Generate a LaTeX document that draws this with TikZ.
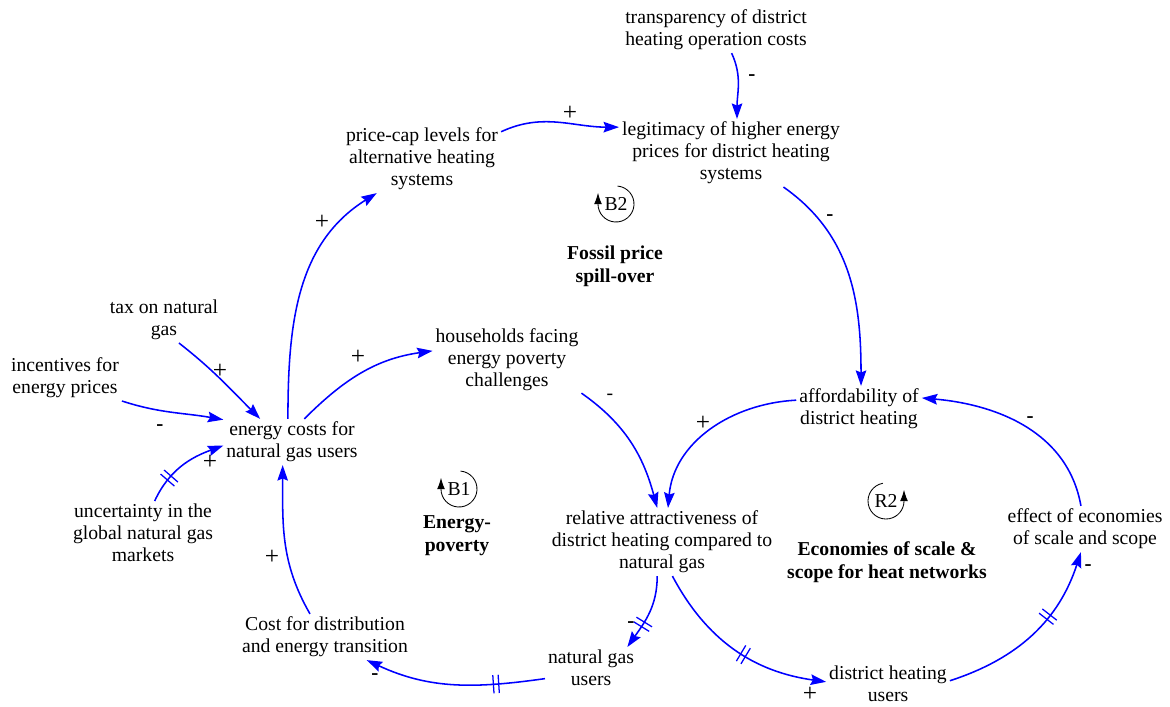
\documentclass[tikz,border=0pt]{standalone}
\usepackage{fontspec}
\setmainfont{Liberation Serif}
\usetikzlibrary{arrows.meta,decorations.markings}

\tikzset{
	var/.style={align=center, inner sep=2pt, font=\fontsize{14}{15.6}\selectfont},
	loopname/.style={align=center, inner sep=2pt, font=\fontsize{14}{16.5}\selectfont\bfseries},
	pol/.style={inner sep=0pt, font=\fontsize{18}{18}\selectfont},
	neg/.style={inner sep=0pt, font=\fontsize{15}{15}\selectfont\bfseries},
	link/.style={blue, line width=1.1pt, -{Stealth[length=11pt,width=7.5pt,inset=1.5pt]}},
	delaymark/.style={postaction={decorate, decoration={markings,
		mark=at position #1 with {\draw[-, line width=0.9pt] (-1.9pt,-6.5pt) -- (-1.9pt,6.5pt) (1.9pt,-6.5pt) -- (1.9pt,6.5pt);}}}},
	loopsym/.style={black, line width=0.6pt, -{Latex[length=8pt,width=5.5pt]}}
}

\begin{document}
\begin{tikzpicture}[x=0.025cm, y=0.025cm]
	\useasboundingbox (0,0) rectangle (1170,706);
	
	% variables
	\node[var] (trans)  at (716,676) {transparency of district\\heating operation costs};
	\node[var] (legit)  at (731,553) {legitimacy of higher energy\\prices for district heating\\systems};
	\node[var] (price)  at (422,547) {price-cap levels for\\alternative heating\\systems};
	\node[var] (tax)    at (164,386) {tax on natural\\gas};
	\node[var] (incent) at (65,328)  {incentives for\\energy prices};
	\node[var] (ecost)  at (292,264) {energy costs for\\natural gas users};
	\node[var] (house)  at (507,346) {households facing\\energy poverty\\challenges};
	\node[var] (afford) at (859,297) {affordability of\\district heating};
	\node[var] (uncert) at (143,173) {uncertainty in the\\global natural gas\\markets};
	\node[var] (relat)  at (662,164) {relative attractiveness of\\district heating compared to\\natural gas};
	\node[var] (effect) at (1085,177) {effect of economies\\of scale and scope};
	\node[var] (cost)   at (325,69)  {Cost for distribution\\and energy transition};
	\node[var] (ngu)    at (591,38)  {natural gas\\users};
	\node[var] (dhu)    at (888,22)  {district heating\\users};
	
	% loops
	\node[loopname] (fossil) at (615,440) {Fossil price\\spill-over};
	\node[loopname] (epov)   at (457,170) {Energy-\\poverty};
	\node[loopname] (scale)  at (887,144) {Economies of scale \&\\scope for heat networks};
	\node[var] (B2) at (616,502) {B2};
	\node[var] (B1) at (459,217) {B1};
	\node[var] (R2) at (886,205) {R2};
	\draw[loopsym] (B2.center) ++(85:0.45cm) arc[start angle=85, end angle=-180, radius=0.45cm] -- ++(0,0.28cm);
	\draw[loopsym] (B1.center) ++(85:0.45cm) arc[start angle=85, end angle=-180, radius=0.45cm] -- ++(0,0.28cm);
	\draw[loopsym] (R2.center) ++(100:0.45cm) arc[start angle=100, end angle=360, radius=0.45cm] -- ++(0,0.28cm);
	
	% links
	\path[link] (trans.-56) edge[out=-65, in=90] (legit.80)
	(price.19)   edge[out=25, in=180] (legit.167)
	(legit.-33)  edge[out=-35, in=90] (afford.85)
	(ecost.100)  edge[out=90, in=-148] (price.-143)
	(ecost.62)   edge[out=45, in=188] (house.173)
	(tax.-57)    edge[out=-38, in=135] (ecost.144)
	(incent.-22) edge[out=-18, in=170] (ecost.162)
	(uncert.70)  edge[out=65, in=200, delaymark=0.3] (ecost.183)
	(house.-24)  edge[out=-35, in=105] (relat.98)
	(afford.172) edge[out=183, in=85] (relat.80)
	(relat.-98)  edge[out=-90, in=55, delaymark=0.65] (ngu.30)
	(relat.-73)  edge[out=-62, in=172, delaymark=0.55] (dhu.178)
	(dhu.3)      edge[out=18, in=-108, delaymark=0.62] (effect.-100)
	(effect.100) edge[out=100, in=-5] (afford.10)
	(ngu.193)    edge[out=188, in=-25, delaymark=0.27] (cost.-29)
	(cost.123)   edge[out=120, in=-90] (ecost.-112);
	
	% polarities
	\node[neg] (p1)  at (752,628) {-};
	\node[pol] (p2)  at (570,593) {+};
	\node[neg] (p3)  at (830,488) {-};
	\node[pol] (p4)  at (322,484) {+};
	\node[pol] (p5)  at (358,349) {+};
	\node[pol] (p6)  at (220,335) {+};
	\node[neg] (p7)  at (160,278) {-};
	\node[pol] (p8)  at (210,244) {+};
	\node[var, inner sep=0pt] (p9) at (610,309) {-};
	\node[pol] (p10) at (703,283) {+};
	\node[neg] (p11) at (631,81)  {-};
	\node[pol] (p12) at (810,12)  {+};
	\node[neg] (p13) at (1088,138) {-};
	\node[neg] (p14) at (1030,286) {-};
	\node[neg] (p15) at (375,29)  {-};
	\node[pol] (p16) at (272,149) {+};
\end{tikzpicture}
\end{document}
